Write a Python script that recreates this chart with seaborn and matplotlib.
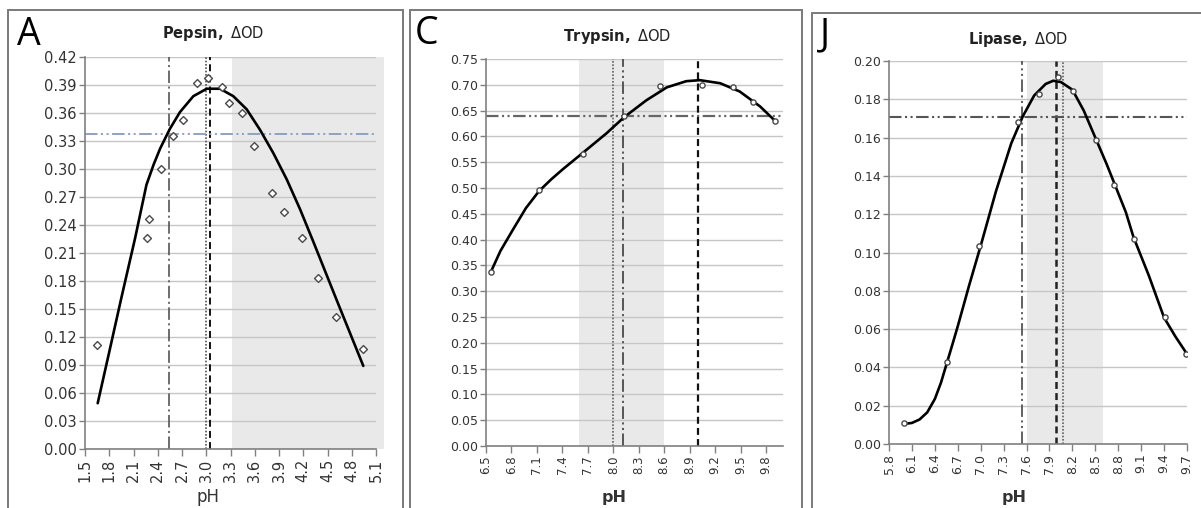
import numpy as np
import seaborn as sns
import matplotlib.pyplot as plt
from matplotlib.patches import Rectangle

# Panel A - pepsin
pepsin_ph = [1.645, 2.27, 2.296, 2.436, 2.585, 2.709, 2.886, 3.02, 3.195, 3.285,
             3.446, 3.59, 3.813, 3.958, 4.19, 4.378, 4.60, 4.94]
pepsin_od = [0.1115, 0.226, 0.2465, 0.300, 0.335, 0.352, 0.392, 0.397, 0.388, 0.371,
             0.360, 0.325, 0.274, 0.2536, 0.226, 0.183, 0.141, 0.1067]
pepsin_fit_ph = [1.657, 1.80, 1.95, 2.12, 2.26, 2.35, 2.43, 2.55, 2.675, 2.84, 3.006, 3.17,
                 3.335, 3.50, 3.665, 3.83, 3.995, 4.16, 4.325, 4.63, 4.943]
pepsin_fit_od = [0.049, 0.104, 0.162, 0.226, 0.283, 0.305, 0.322, 0.343, 0.361, 0.378, 0.386,
                 0.386, 0.378, 0.364, 0.342, 0.317, 0.289, 0.257, 0.222, 0.156, 0.089]

# Panel C - trypsin
trypsin_ph = [6.559, 7.125, 7.64, 8.126, 8.554, 9.049, 9.414, 9.65, 9.91]
trypsin_od = [0.338, 0.496, 0.565, 0.640, 0.698, 0.700, 0.695, 0.667, 0.630]
trypsin_fit_ph = [6.559, 6.67, 6.82, 6.97, 7.125, 7.27, 7.41, 7.64, 7.92, 8.126, 8.39, 8.63,
                  8.86, 9.02, 9.26, 9.49, 9.73, 9.92]
trypsin_fit_od = [0.338, 0.378, 0.420, 0.461, 0.494, 0.517, 0.537, 0.568, 0.606, 0.637, 0.670,
                  0.695, 0.707, 0.709, 0.703, 0.687, 0.658, 0.628]

# Panel J - lipase
lipase_ph = [6.0, 6.555, 6.982, 7.492, 7.76, 8.008, 8.212, 8.51, 8.75, 9.007, 9.413, 9.687]
lipase_od = [0.011, 0.043, 0.1034, 0.1683, 0.1828, 0.1918, 0.1845, 0.159, 0.1352, 0.1069,
             0.0661, 0.0468]
lipase_fit_ph = [6.0, 6.1, 6.2, 6.3, 6.4, 6.48, 6.555, 6.63, 6.7, 6.85, 7.0, 7.2, 7.4, 7.55,
                 7.7, 7.85, 7.95, 8.05, 8.2, 8.35, 8.5, 8.65, 8.75, 8.9, 9.0, 9.2, 9.4, 9.55, 9.7]
lipase_fit_od = [0.0105, 0.011, 0.0128, 0.0165, 0.0235, 0.032, 0.042, 0.052, 0.0615, 0.083,
                 0.1035, 0.132, 0.157, 0.171, 0.182, 0.188, 0.1897, 0.189, 0.185, 0.174, 0.160,
                 0.146, 0.136, 0.121, 0.108, 0.088, 0.066, 0.056, 0.047]

# axis ticks
pepsin_xticks = np.round(np.arange(1.5, 5.11, 0.3), 1)
pepsin_yticks = np.round(np.arange(0, 0.421, 0.03), 2)
trypsin_xticks = np.round(np.arange(6.5, 9.81, 0.3), 1)
trypsin_yticks = np.round(np.arange(0, 0.751, 0.05), 2)
lipase_xticks = np.round(np.arange(5.8, 9.71, 0.3), 1)
lipase_yticks = np.round(np.arange(0, 0.201, 0.02), 2)

sns.set_theme(style="white")
plt.rcParams['font.family'] = ['DejaVu Sans']
plt.rcParams['mathtext.fontset'] = 'dejavusans'
plt.rcParams['lines.scale_dashes'] = False

W, H = 1201, 508
fig = plt.figure(figsize=(W / 100, H / 100), dpi=100)

DASHDOTDOT = (0, (9, 2.5, 1.5, 2.5, 1.5, 2.5))
DASHDOT = (0, (9, 2.5, 1.5, 2.5))
DOTTED = (0, (1.2, 1.2))
DASHED = (0, (5, 3))


def frame(x0, y0, x1):
    fig.patches.append(Rectangle((x0 / W, -0.05), (x1 - x0) / W, 1 - y0 / H + 0.05,
                                 transform=fig.transFigure, fill=False,
                                 edgecolor='#7a7a7a', lw=1.4, clip_on=False))


def panel(rect, ph, od, fit_ph, fit_od, xlim, ylim, xticks, yticks, yfmt,
          marker, msize, tsize, xsize):
    l, t, r, b = rect
    ax = fig.add_axes([l / W, 1 - b / H, (r - l) / W, (b - t) / H])
    sns.lineplot(x=fit_ph, y=fit_od, ax=ax, color='black', lw=1.9, sort=False,
                 estimator=None, zorder=4)
    sns.scatterplot(x=ph, y=od, ax=ax, marker=marker, s=msize, fc='white',
                    ec='#4a4a4a', linewidth=1.0, zorder=5)
    ax.set_xlim(*xlim)
    ax.set_ylim(*ylim)
    ax.set_xticks(xticks)
    ax.set_xticklabels([f'{v:.1f}' for v in xticks])
    ax.set_yticks(yticks)
    ax.set_yticklabels([yfmt.format(v) for v in yticks])
    ax.set_axisbelow(True)
    ax.yaxis.grid(True, color='#c6c6c6', lw=1.0)
    ax.xaxis.grid(False)
    for s in ['top', 'right']:
        ax.spines[s].set_visible(False)
    for s in ['left', 'bottom']:
        ax.spines[s].set_color('#808080')
        ax.spines[s].set_linewidth(1.2)
    ax.tick_params(axis='x', bottom=True, direction='out', length=5, width=1,
                   color='#808080', rotation=90, labelsize=xsize, labelcolor='#333333', pad=2)
    ax.tick_params(axis='y', left=True, direction='out', length=4, width=1,
                   color='#808080', labelsize=tsize, labelcolor='#333333', pad=2)
    ax.set_xlabel('')
    ax.set_ylabel('')
    ax.patch.set_alpha(0)
    return ax


# Panel A
frame(8, 10, 403)
axA = panel((85, 57, 376, 449), pepsin_ph, pepsin_od, pepsin_fit_ph, pepsin_fit_od,
            (1.5, 5.1), (0, 0.42), pepsin_xticks, pepsin_yticks, '{:.2f}',
            'D', 16, 10.5, 10.5)
axA.axvspan(3.32, 5.2, color='#e9e9e9', zorder=0, lw=0, clip_on=False)
axA.axvline(2.535, color='#555555', lw=1.2, ls=DASHDOT)
axA.axvline(2.997, color='#444444', lw=1.1, ls=DOTTED)
axA.axvline(3.047, color='#111111', lw=1.4, ls=DASHED)
axA.axhline(0.338, color='#8fa2c0', lw=1.4, ls=DASHDOTDOT)

# Panel C
frame(410, 10, 802)
axC = panel((486, 59, 783, 446), trypsin_ph, trypsin_od, trypsin_fit_ph, trypsin_fit_od,
            (6.5, 10.0), (0, 0.75), trypsin_xticks, trypsin_yticks, '{:.2f}',
            'o', 14, 9, 8.5)
axC.axvspan(7.6, 8.6, color='#e9e9e9', zorder=0, lw=0)
axC.axvline(8.0, color='#555555', lw=1.1, ls=DOTTED)
axC.axvline(8.11, color='#555555', lw=1.4, ls=DASHDOTDOT)
axC.axvline(9.0, color='#111111', lw=1.6, ls=DASHED)
axC.axhline(0.640, color='#666666', lw=1.6, ls=DASHDOTDOT)

# Panel J
frame(812, 13, 1240)
axJ = panel((889, 61, 1187, 444), lipase_ph, lipase_od, lipase_fit_ph, lipase_fit_od,
            (5.8, 9.7), (0, 0.20), lipase_xticks, lipase_yticks, '{:.2f}',
            'o', 14, 9, 9)
axJ.axvspan(7.6, 8.6, color='#e9e9e9', zorder=0, lw=0)
axJ.axvline(7.537, color='#555555', lw=1.3, ls=DASHDOTDOT)
axJ.axvline(7.98, color='#222222', lw=1.8, ls=DASHED)
axJ.axvline(8.078, color='#555555', lw=1.1, ls=DOTTED)
axJ.axhline(0.1706, color='#555555', lw=1.5, ls=DASHDOTDOT)

# titles, panel letters, axis labels
for x, y, txt in [(213, 38, r'$\bf{Pepsin,}$ ΔOD'), (617, 41, r'$\bf{Trypsin,}$ ΔOD'),
                  (1018, 44, r'$\bf{Lipase,}$ ΔOD')]:
    fig.text(x / W, 1 - y / H, txt, ha='center', va='baseline', fontsize=10.5, color='#222222')

for x, y, letter in [(17, 45, 'A'), (415, 44, 'C'), (820, 45, 'J')]:
    fig.text(x / W, 1 - y / H, letter, ha='left', va='baseline', fontsize=27,
             color='black', family=['Open Sans', 'DejaVu Sans'])

fig.text(208 / W, 1 - 502 / H, 'pH', ha='center', va='baseline', fontsize=12, color='#333333')
fig.text(614 / W, 1 - 502 / H, 'pH', ha='center', va='baseline', fontsize=11.5,
         fontweight='bold', color='#333333')
fig.text(1014 / W, 1 - 502 / H, 'pH', ha='center', va='baseline', fontsize=11.5,
         fontweight='bold', color='#333333')

fig.savefig('out.png', dpi=100)
